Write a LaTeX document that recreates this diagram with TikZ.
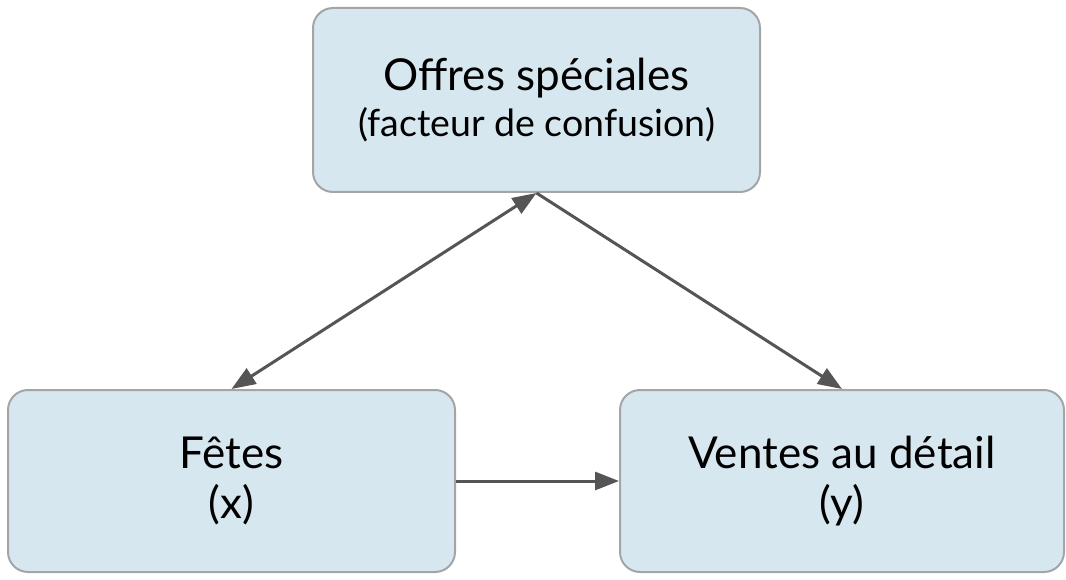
\documentclass[tikz,border=0pt]{standalone}
\usepackage{fontspec}
\setmainfont{Lato}
\usetikzlibrary{arrows.meta}
\definecolor{boxfill}{HTML}{D7E7EF}
\definecolor{boxline}{HTML}{A3A6A8}
\definecolor{arrowgray}{HTML}{555555}
\begin{document}
\begin{tikzpicture} [
    x=1pt, y=-1pt,
    block/.style    = { rectangle, rounded corners=20pt, draw=boxline, fill=boxfill,
                        line width=2pt, align=center, text centered, font=\fontsize{44}{50}\selectfont },
    line/.style     = { draw=arrowgray, line width=3pt, -{Triangle[length=24pt,width=18pt]}},
  ]
  \useasboundingbox (0,0) rectangle (1066,580);

  % Define nodes
  \node[block, minimum width=447pt, minimum height=184pt] (offers) at (536.5,100)
    {Offres spéciales\\[-4pt]{\fontsize{37.5}{46}\selectfont (facteur de confusion)}};
  \node[block, minimum width=447pt, minimum height=182pt] (fetes) at (231.5,481) {Fêtes\\(x)};
  \node[block, minimum width=444pt, minimum height=182pt] (ventes) at (842,481) {Ventes au détail\\(y)};

  % connect the nodes
  \path [line, {Triangle[length=24pt,width=18pt]}-{Triangle[length=24pt,width=18pt]}] (fetes.north) -- (offers.south);
  \path [line] (offers.south) -- (ventes.north);
  \path [line] (fetes.east) -- (ventes.west);
\end{tikzpicture}
\end{document}
